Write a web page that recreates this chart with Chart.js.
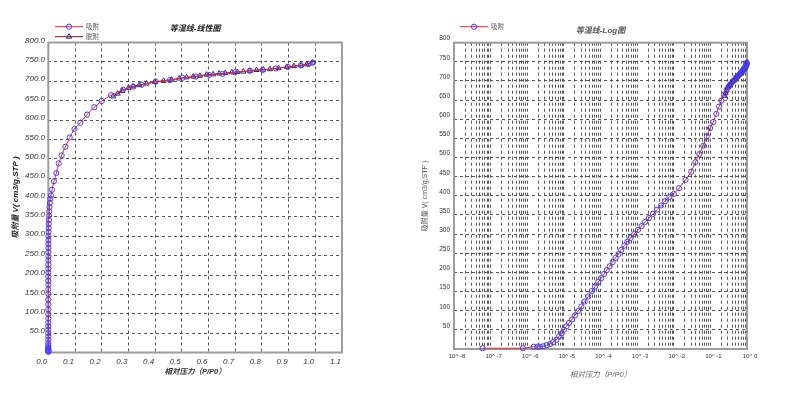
<!DOCTYPE html>
<html>
<head>
<meta charset="utf-8">
<script src="https://cdn.jsdelivr.net/npm/chart.js@4.4.1/dist/chart.umd.min.js"></script>
<style>
  html, body { margin: 0; padding: 0; background: #fff; }
  .box { position: absolute; top: 0; width: 394px; height: 394px; }
  #left { left: 0; }
  #right { left: 394px; }
</style>
</head>
<body>
<div class="box" id="left"><canvas id="linChart" width="394" height="394"></canvas></div>
<div class="box" id="right"><canvas id="logChart" width="394" height="394"></canvas></div>
<script>
/*------------------------------------------------------------
----- ISOTHERM DATA (relative pressure P/P0, V cm3/g STP)
------------------------------------------------------------*/

// adsorption branch
const adsP = [6.0e-8, 7.6e-7, 1.5e-6, 1.9e-6, 2.2e-6, 2.7e-6, 3.4e-6, 4.2e-6, 5.1e-6, 6.3e-6,
  7.4e-6, 8.7e-6, 1.0e-5, 1.17e-5, 1.38e-5, 1.66e-5, 2.0e-5, 2.45e-5, 3.0e-5, 3.7e-5,
  4.6e-5, 5.8e-5, 7.1e-5, 8.7e-5, 1.05e-4, 1.26e-4, 1.48e-4, 1.78e-4, 2.14e-4, 2.57e-4,
  3.1e-4, 3.7e-4, 4.5e-4, 5.4e-4, 6.6e-4, 8.3e-4, 1.05e-3, 1.32e-3, 1.66e-3, 2.1e-3,
  2.7e-3, 3.5e-3, 4.5e-3, 5.8e-3, 7.6e-3, 0.010, 0.014, 0.021, 0.030, 0.039,
  0.050, 0.064, 0.080, 0.098, 0.120, 0.145, 0.172, 0.200, 0.235, 0.280,
  0.318, 0.350, 0.402, 0.456, 0.503, 0.553, 0.603, 0.652, 0.699, 0.755,
  0.803, 0.852, 0.897, 0.945, 0.974, 0.990];
const adsV = [2, 2, 6, 6, 6, 7, 10, 13, 18, 24,
  33, 41, 50, 59, 68, 77, 88, 99, 111, 124,
  137, 151, 163, 175, 185, 196, 206, 216, 227, 238,
  248, 259, 270, 280, 290, 300, 311, 321, 332, 342,
  353, 364, 375, 386, 397, 405, 420, 442, 463, 488,
  509, 531, 555, 577, 593, 614, 633, 649, 664, 678,
  686, 691, 699, 703, 709, 712, 716, 719, 723, 727,
  729, 733, 737, 741, 744, 748];

// desorption branch
const desP = [0.990, 0.968, 0.947, 0.920, 0.893, 0.862, 0.830, 0.805, 0.780, 0.755,
  0.730, 0.708, 0.687, 0.663, 0.640, 0.617, 0.593, 0.568, 0.543, 0.518,
  0.490, 0.462, 0.432, 0.400, 0.368, 0.340, 0.318, 0.300, 0.277, 0.260, 0.243];
const desV = [748, 744, 741, 739, 737, 734, 731, 730, 729, 727,
  725, 724, 723, 721, 720, 718, 717, 714, 712, 710,
  707, 704, 701, 698, 694, 690, 687, 683, 675, 668, 661];

// axis ticks
const linXTicks = [0, 0.1, 0.2, 0.3, 0.4, 0.5, 0.6, 0.7, 0.8, 0.9, 1.0, 1.1];
const linXLabels = ['0.0', '0.1', '0.2', '0.3', '0.4', '0.5', '0.6', '0.7', '0.8', '0.9', '1.0', '1.1'];
const logXMajors = [1e-8, 1e-7, 1e-6, 1e-5, 1e-4, 1e-3, 1e-2, 1e-1, 1];
const logXLabels = ['10^ -8', '10^ -7', '10^ -6', '10^ -5', '10^ -4', '10^ -3', '10^ -2', '10^ -1', '10^ 0'];

const seriesNames = ['吸附', '脱附'];
const yTitle = '吸附量 V( cm3/g,STP )';
const xTitle = '相对压力（P/P0）';

Chart.defaults.font.family = '"Liberation Sans", "Noto Sans CJK SC", sans-serif';

function pts(xs, ys) {
  return xs.map((x, i) => ({ x: x, y: ys[i] }));
}

function makeDatasets() {
  return [{
    label: seriesNames[0],
    data: pts(adsP, adsV),
    showLine: true,
    borderColor: '#ff2020',
    borderWidth: 1,
    pointStyle: 'circle',
    pointRadius: 2.6,
    pointBorderColor: '#3f3fff',
    pointBackgroundColor: 'rgba(0,0,0,0)',
    pointBorderWidth: 1,
    clip: false
  }, {
    label: seriesNames[1],
    data: pts(desP, desV),
    showLine: true,
    borderColor: '#8a1010',
    borderWidth: 1,
    pointStyle: 'triangle',
    pointRadius: 3,
    pointBorderColor: '#34208a',
    pointBackgroundColor: 'rgba(0,0,0,0)',
    pointBorderWidth: 1,
    clip: false
  }];
}

// grey frame round the plot area
const frame = {
  id: 'frame',
  beforeDatasetsDraw(chart) {
    const a = chart.chartArea, ctx = chart.ctx;
    ctx.save();
    ctx.strokeStyle = '#9c9c9c';
    ctx.lineWidth = 2;
    ctx.strokeRect(a.left, a.top, a.right - a.left, a.bottom - a.top);
    ctx.restore();
  }
};

// small stacked legend in the top-left corner
const miniLegend = {
  id: 'miniLegend',
  afterDraw(chart, args, opts) {
    const ctx = chart.ctx;
    ctx.save();
    opts.items.forEach((idx, k) => {
      const ds = chart.data.datasets[idx];
      const y = opts.y + k * opts.gap;
      const mx = opts.x + 14;
      ctx.setLineDash([]);
      ctx.lineWidth = 1;
      ctx.strokeStyle = ds.borderColor;
      ctx.beginPath();
      ctx.moveTo(opts.x, y);
      ctx.lineTo(opts.x + 28, y);
      ctx.stroke();
      ctx.strokeStyle = ds.pointBorderColor;
      ctx.beginPath();
      if (ds.pointStyle === 'triangle') {
        const r = ds.pointRadius;
        ctx.moveTo(mx, y - r);
        ctx.lineTo(mx + r * 0.87, y + r * 0.5);
        ctx.lineTo(mx - r * 0.87, y + r * 0.5);
        ctx.closePath();
      } else {
        ctx.arc(mx, y, ds.pointRadius, 0, Math.PI * 2);
      }
      ctx.stroke();
      ctx.fillStyle = '#555';
      ctx.font = '6.5px "Noto Sans CJK SC", sans-serif';
      ctx.textBaseline = 'middle';
      ctx.textAlign = 'left';
      ctx.fillText(ds.label, opts.x + 31, y);
    });
    ctx.restore();
  }
};

const gridStyle = { color: '#555', lineWidth: 1, drawTicks: false };
const borderStyle = { display: false, dash: [3, 3] };

// ---------------- linear chart
new Chart(document.getElementById('linChart'), {
  type: 'scatter',
  data: { datasets: makeDatasets() },
  plugins: [frame, miniLegend],
  options: {
    responsive: false,
    animation: false,
    layout: { padding: { left: 0, right: 52, top: 0, bottom: 0 } },
    plugins: {
      legend: { display: false },
      tooltip: { enabled: false },
      title: {
        display: true, text: '等温线-线性图', fullSize: false, color: '#222',
        font: { size: 8, style: 'italic', weight: 'bold' },
        padding: { top: 24.2, bottom: 8.7 }
      },
      miniLegend: { items: [0, 1], x: 55, y: 26.7, gap: 10 }
    },
    scales: {
      x: {
        type: 'linear', min: 0, max: 1.1,
        afterBuildTicks: s => { s.ticks = linXTicks.map(v => ({ value: v })); },
        afterFit: s => { s.height = 41.5; },
        grid: gridStyle, border: borderStyle,
        ticks: {
          color: '#333', font: { size: 8, style: 'italic' }, padding: 4.4,
          align: 'end', labelOffset: -1, maxRotation: 0, autoSkip: false,
          callback: (v, i) => linXLabels[i]
        },
        title: {
          display: true, text: xTitle, color: '#333',
          font: { size: 7.5, style: 'italic', weight: 'bold' },
          padding: { top: 0, bottom: 17.5 }
        }
      },
      y: {
        type: 'linear', min: 0, max: 800,
        afterFit: s => { s.width = 48.3; },
        grid: gridStyle, border: borderStyle,
        ticks: {
          stepSize: 50, color: '#333', font: { size: 8, style: 'italic' },
          padding: 3.3, labelOffset: -2,
          callback: v => (v === 0 ? '' : v.toFixed(1))
        },
        title: {
          display: true, text: yTitle, color: '#222',
          font: { size: 8, style: 'italic', weight: 'bold' },
          padding: { top: 10.7, bottom: 0 }
        }
      }
    }
  }
});

// ---------------- log chart
new Chart(document.getElementById('logChart'), {
  type: 'scatter',
  data: { datasets: makeDatasets() },
  plugins: [frame, miniLegend],
  options: {
    responsive: false,
    animation: false,
    layout: { padding: { left: 0, right: 41, top: 0, bottom: 0 } },
    plugins: {
      legend: { display: false },
      tooltip: { enabled: false },
      title: {
        display: true, text: '等温线-Log图', fullSize: false, color: '#555',
        font: { size: 8, style: 'italic' },
        padding: { top: 25.5, bottom: 7.6 }
      },
      miniLegend: { items: [0], x: 66, y: 26.7, gap: 10 }
    },
    scales: {
      x: {
        type: 'logarithmic', min: 1e-8, max: 1,
        afterBuildTicks: s => {
          const t = [];
          logXMajors.forEach((m, k) => {
            const n = k < logXMajors.length - 1 ? 9 : 1;
            for (let j = 1; j <= n; j++) t.push({ value: m * j, major: j === 1 });
          });
          s.ticks = t;
        },
        afterFit: s => { s.height = 45; },
        grid: gridStyle, border: borderStyle,
        ticks: {
          color: '#333', font: { size: 6 }, padding: 3.4, labelOffset: 3,
          maxRotation: 0, autoSkip: false,
          callback: v => {
            const e = Math.log10(v);
            return Math.abs(e - Math.round(e)) < 1e-6 ? logXLabels[Math.round(e) + 8] : '';
          }
        },
        title: {
          display: true, text: xTitle, color: '#666',
          font: { size: 7.5, style: 'italic' },
          padding: { top: 0, bottom: 14.5 }
        }
      },
      y: {
        type: 'linear', min: 0, max: 800,
        afterFit: s => { s.width = 60; },
        grid: gridStyle, border: borderStyle,
        ticks: {
          stepSize: 50, color: '#333', font: { size: 6.5 },
          padding: 4, labelOffset: -4,
          callback: v => (v === 0 ? '' : String(v))
        },
        title: {
          display: true, text: yTitle, color: '#555',
          font: { size: 7 },
          padding: { top: 26.8, bottom: 0 }
        }
      }
    }
  }
});
</script>
</body>
</html>
